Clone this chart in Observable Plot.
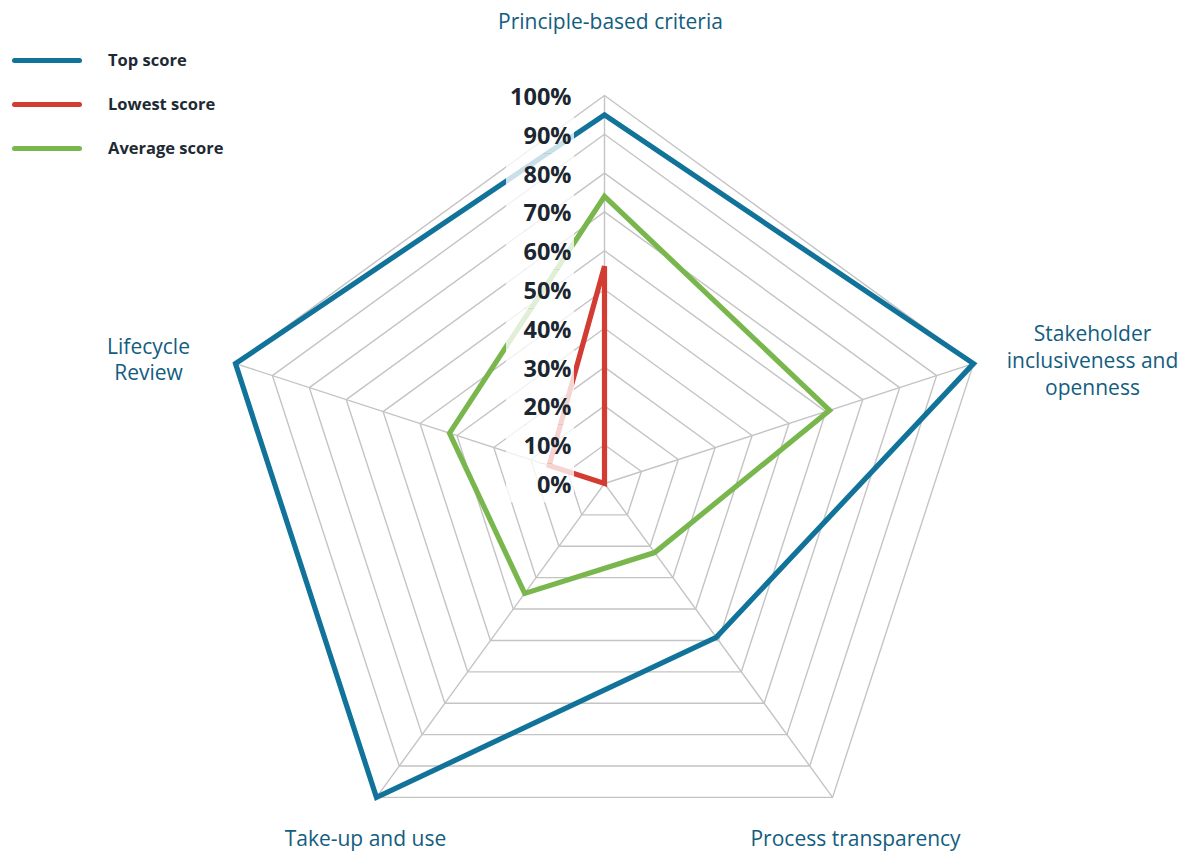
<!DOCTYPE html>
<html>
<head>
<meta charset="utf-8">
<script src="https://cdn.jsdelivr.net/npm/d3@7"></script>
<script src="https://cdn.jsdelivr.net/npm/@observablehq/plot@0.6"></script>
<style>
  html, body { margin: 0; padding: 0; background: #fff; }
  #wrap { position: relative; width: 1184px; height: 853px; }
  #legend { position: absolute; left: 0; top: 0; font-family: "Open Sans", sans-serif; font-weight: 700; font-size: 16.5px; color: #1d2a33; }
  .item { position: absolute; left: 12px; width: 260px; height: 20px; }
  .sw { position: absolute; left: 0; top: 7.5px; width: 70px; height: 5px; border-radius: 3px; }
  .lb { position: absolute; left: 96px; top: 0; line-height: 20px; white-space: nowrap; }
</style>
</head>
<body>
<div id="wrap"><div id="chart"></div><div id="legend"></div></div>
<script>
const axes = ["Principle-based criteria", "Stakeholder\ninclusiveness and\nopenness", "Process transparency", "Take-up and use", "Lifecycle\nReview"];
const seriesNames = ["Top score", "Lowest score", "Average score"];
const seriesColors = ["#11739a", "#d33c33", "#79b74e"];
const topScore = [95, 100, 49, 100, 100];
const lowestScore = [56, 0, 0, 0, 15];
const averageScore = [74, 61, 22, 35, 42];
const tickValues = [0, 10, 20, 30, 40, 50, 60, 70, 80, 90, 100];
const tickLabels = ["0%", "10%", "20%", "30%", "40%", "50%", "60%", "70%", "80%", "90%", "100%"];

const n = axes.length;
const ang = i => i * 2 * Math.PI / n;
const px = (v, i) => v / 100 * Math.sin(ang(i));
const py = (v, i) => v / 100 * Math.cos(ang(i));

// grid rings
const rings = [];
tickValues.filter(t => t > 0).forEach(t => axes.forEach((a, i) => rings.push({ring: t, x: px(t, i), y: py(t, i)})));
const spokes = axes.map((a, i) => ({x1: 0, y1: 0, x2: px(100, i), y2: py(100, i)}));

// series (draw order: top, average, lowest)
const seriesData = [];
[[0, topScore], [2, averageScore], [1, lowestScore]].forEach(([k, vals]) => {
  vals.forEach((v, i) => seriesData.push({series: seriesNames[k], x: px(v, i), y: py(v, i)}));
});

// axis label offsets (pixels) relative to 100% vertex
const labelOffsets = [[6, -75], [119, -4], [23, 40], [-11, 40], [-87, -5]];
const axisLabels = axes.map((a, i) => ({label: a, x: px(100, i), y: py(100, i), dx: labelOffsets[i][0], dy: labelOffsets[i][1]}));

const ticks = tickValues.map((t, k) => ({v: t / 100, label: tickLabels[k]}));
const R = 388;

const chart = Plot.plot({
  width: 1184,
  height: 853,
  margin: 0,
  x: {domain: [-1, 1], range: [604 - R, 604 + R], axis: null},
  y: {domain: [-1, 1], range: [483 + R, 483 - R], axis: null},
  color: {domain: seriesNames, range: seriesColors},
  style: {background: "#fff"},
  marks: [
    Plot.line(rings, {x: "x", y: "y", z: "ring", curve: "linear-closed", stroke: "#c4c4c4", strokeWidth: 1.4}),
    Plot.link(spokes, {x1: "x1", y1: "y1", x2: "x2", y2: "y2", stroke: "#c4c4c4", strokeWidth: 1.4}),
    Plot.line(seriesData, {x: "x", y: "y", z: "series", stroke: "series", curve: "linear-closed", strokeWidth: 5.2, strokeLinejoin: "miter", strokeMiterlimit: 6}),
    Plot.rect(ticks, {x1: -98 / R, x2: -30 / R, y1: d => d.v - 0.05, y2: d => d.v + 0.05, fill: "white", fillOpacity: 0.78}),
    Plot.text(ticks, {x: 0, y: "v", text: "label", textAnchor: "end", dx: -33, dy: 2, fontSize: 23.5, fontWeight: 700, fill: "#1b2630", fontFamily: "Open Sans"}),
    ...axisLabels.map(d => Plot.text([d], {x: "x", y: "y", text: "label", dx: d.dx, dy: d.dy, fontSize: 21, lineHeight: 1.27, fill: "#135d80", fontFamily: "Open Sans", textAnchor: "middle"}))
  ]
});
document.getElementById("chart").appendChild(chart);

const legend = document.getElementById("legend");
seriesNames.forEach((s, k) => {
  const it = document.createElement("div");
  it.className = "item";
  it.style.top = (50 + 44 * k) + "px";
  it.innerHTML = `<div class="sw" style="background:${seriesColors[k]}"></div><div class="lb">${s}</div>`;
  legend.appendChild(it);
});
</script>
</body>
</html>
